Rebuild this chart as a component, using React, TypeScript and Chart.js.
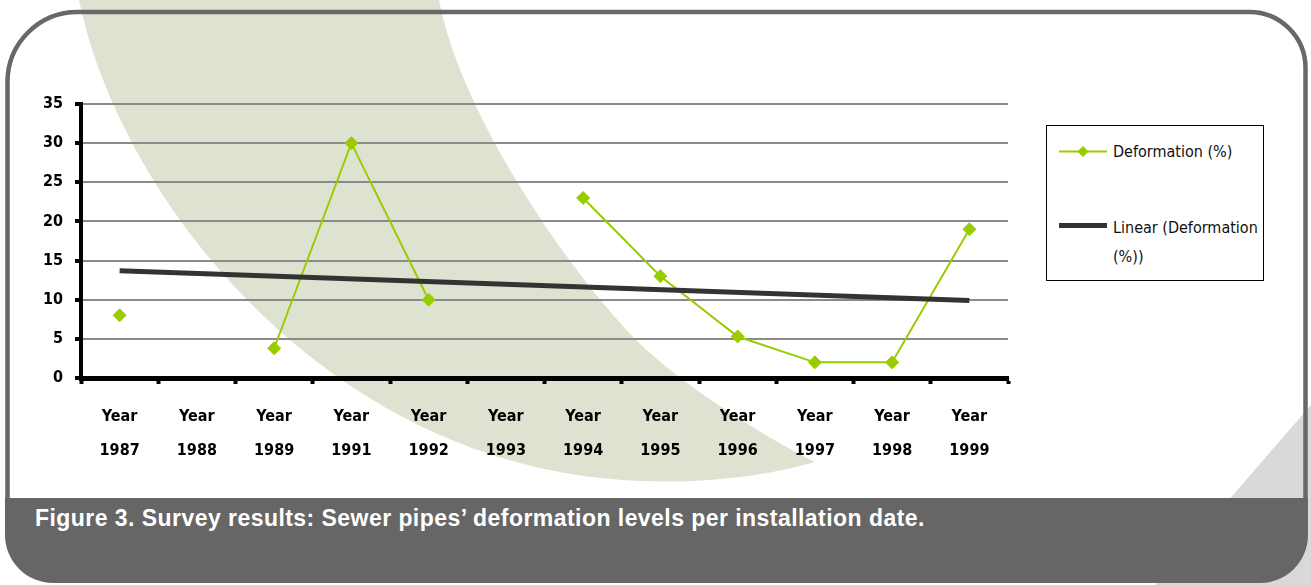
import React, { useEffect, useRef } from "react";
import { Chart, registerables } from "chart.js";

Chart.register(...registerables);

// ---- data ----
const CATEGORY_PREFIX = "Year";
const CATEGORIES = ["1987", "1988", "1989", "1991", "1992", "1993", "1994", "1995", "1996", "1997", "1998", "1999"];
const DEFORMATION: (number | null)[] = [8, null, 3.8, 30, 10, null, 23, 13, 5.3, 2, 2, 19];
const TREND: (number | null)[] = [13.7, null, null, null, null, null, null, null, null, null, null, 9.9];
const Y_MIN = 0;
const Y_MAX = 35;
const Y_STEP = 5;
const SERIES_NAMES = ["Deformation (%)", "Linear (Deformation", "(%))"];
const CAPTION = "Figure 3. Survey results: Sewer pipes\u2019 deformation levels per installation date.";

const GREEN = "#99cc00";
const TREND_COLOR = "#333333";
const TICK_FONT = "'DejaVu Sans Condensed', 'DejaVu Sans', sans-serif";

export default function App() {
  const canvasRef = useRef<HTMLCanvasElement | null>(null);

  useEffect(() => {
    const canvas = canvasRef.current;
    if (!canvas) return;
    const chart = new Chart(canvas, {
      type: "line",
      data: {
        labels: CATEGORIES.map((c) => [CATEGORY_PREFIX, c]),
        datasets: [
          {
            label: SERIES_NAMES[0],
            data: DEFORMATION,
            borderColor: GREEN,
            backgroundColor: GREEN,
            borderWidth: 2,
            pointStyle: "rectRot",
            pointRadius: 6.5,
            pointBorderWidth: 1,
            pointBorderColor: GREEN,
            pointBackgroundColor: GREEN,
            spanGaps: false,
            tension: 0,
            order: 1,
          },
          {
            label: "Linear (Deformation (%))",
            data: TREND,
            borderColor: TREND_COLOR,
            borderWidth: 5,
            pointRadius: 0,
            spanGaps: true,
            tension: 0,
            order: 0,
          },
        ],
      },
      options: {
        responsive: false,
        animation: false,
        devicePixelRatio: 1,
        layout: { padding: { top: 104, right: 303, left: 0, bottom: 0 } },
        plugins: { legend: { display: false }, tooltip: { enabled: false } },
        scales: {
          x: {
            type: "category",
            offset: true,
            afterFit: (scale: any) => {
              scale.height = 122;
            },
            grid: {
              offset: true,
              drawOnChartArea: false,
              drawTicks: true,
              tickLength: 6,
              tickWidth: 4,
              tickColor: "#000",
              color: "#000",
            },
            border: { display: true, color: "#000", width: 5 },
            ticks: {
              color: "#000",
              padding: 16,
              maxRotation: 0,
              autoSkip: false,
              font: { family: TICK_FONT, size: 16, weight: "bold", lineHeight: 2.125 },
            },
          },
          y: {
            min: Y_MIN,
            max: Y_MAX,
            afterFit: (scale: any) => {
              scale.width = 81;
            },
            grid: {
              color: "#8a8a8a",
              lineWidth: 2,
              tickLength: 6,
              tickWidth: 4,
              tickColor: "#000",
            },
            border: { display: true, color: "#000", width: 4 },
            ticks: {
              stepSize: Y_STEP,
              color: "#000",
              padding: 12,
              font: { family: TICK_FONT, size: 16, weight: "bold" },
            },
          },
        },
      },
    });
    return () => chart.destroy();
  }, []);

  return (
    <div
      style={{
        position: "absolute",
        left: 0,
        top: 0,
        width: 1311,
        height: 585,
        overflow: "hidden",
        background: "#ffffff",
      }}
    >
      <svg width={1311} height={585} style={{ position: "absolute", left: 0, top: 0 }}>
        <path
          d="M79,0 C120,200 330,470 640,481 C720,484 780,472 815,462 C770,440 680,385 633,337 C560,260 460,110 439,0 Z"
          fill="#dde3d0"
        />
        <polygon points="1311,405 1311,585 1155,585" fill="#d9d9d9" />
        <path
          d="M7.5,500 L7.5,82 A70,70 0 0 1 77.5,12 L1249.5,12 A56,56 0 0 1 1305.5,68 L1305.5,500"
          fill="none"
          stroke="#686868"
          strokeWidth={4.5}
        />
        <path
          d="M5,498 L1308,498 L1308,535 A48,48 0 0 1 1260,583 L53,583 A48,48 0 0 1 5,535 Z"
          fill="#666666"
        />
      </svg>
      <canvas
        ref={canvasRef}
        width={1311}
        height={500}
        style={{ position: "absolute", left: 0, top: 0, width: 1311, height: 500 }}
      />
      <div
        style={{
          position: "absolute",
          left: 1046,
          top: 125,
          width: 216,
          height: 154,
          border: "1.5px solid #000",
          background: "#ffffff",
        }}
      />
      <svg width={60} height={160} style={{ position: "absolute", left: 1055, top: 130 }}>
        <line x1={4} y1={21.5} x2={52} y2={21.5} stroke={GREEN} strokeWidth={2} />
        <polygon points="28,16 33.5,21.5 28,27 22.5,21.5" fill={GREEN} />
        <line x1={4} y1={95.5} x2={52} y2={95.5} stroke={TREND_COLOR} strokeWidth={5} />
      </svg>
      <div
        style={{
          position: "absolute",
          left: 1113,
          top: 137,
          fontFamily: TICK_FONT,
          fontSize: 16,
          lineHeight: "29px",
          color: "#111",
          whiteSpace: "nowrap",
        }}
      >
        {SERIES_NAMES[0]}
      </div>
      <div
        style={{
          position: "absolute",
          left: 1113,
          top: 213,
          fontFamily: TICK_FONT,
          fontSize: 16,
          lineHeight: "29px",
          color: "#111",
          whiteSpace: "nowrap",
        }}
      >
        {SERIES_NAMES[1]}
        <br />
        {SERIES_NAMES[2]}
      </div>
      <div
        style={{
          position: "absolute",
          left: 35,
          top: 504,
          fontFamily: "'Liberation Sans', Arial, sans-serif",
          fontWeight: "bold",
          fontSize: 23,
          letterSpacing: "0.45px",
          lineHeight: "28px",
          color: "#ffffff",
          whiteSpace: "nowrap",
        }}
      >
        {CAPTION}
      </div>
    </div>
  );
}
